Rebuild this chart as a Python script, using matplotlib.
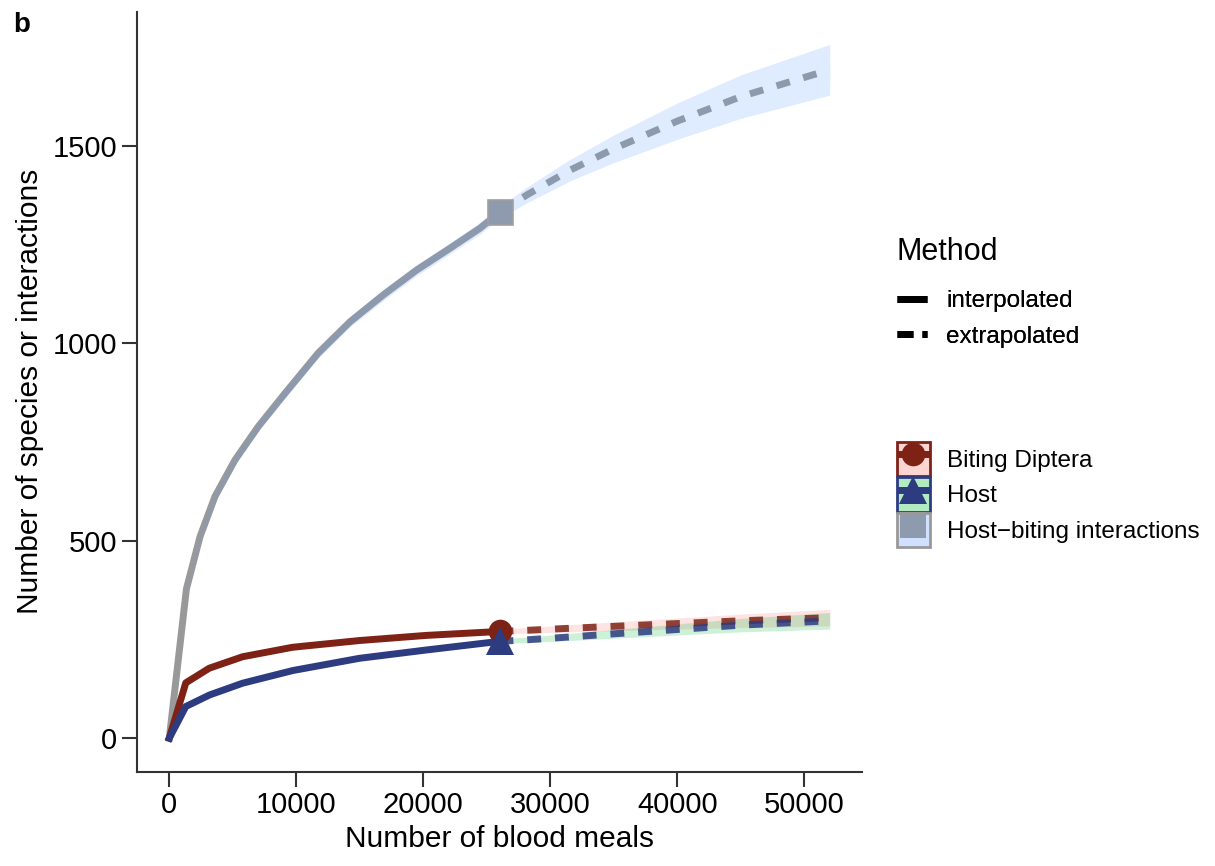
import numpy as np
import matplotlib.pyplot as plt
from matplotlib.lines import Line2D
from matplotlib.patches import Patch
from matplotlib.legend_handler import HandlerTuple

plt.rcParams['font.family'] = ['Liberation Sans', 'DejaVu Sans']

# values
groups = ['Biting Diptera', 'Host', 'Host\u2212biting interactions']
line_colors = ['#7E2216', '#2D3B80', '#999999']
band_colors = ['#F8766D', '#00BA38', '#619CFF']
markers = ['o', '^', 's']
marker_sizes = [17, 20, 18]

obs_x = [26000, 26000, 26000]
obs_y = [270, 245, 1331]

interp_x = [0, 1300, 3150, 5770, 9710, 14960, 20210, 26000]
interp_y = [
    [0, 140, 177, 206, 230, 247, 260, 270],
    [0, 80, 109, 139, 171, 202, 223, 245],
]
interp_half = [
    [0, 3, 4, 4, 5, 5, 6, 6],
    [0, 3, 4, 4, 5, 5, 6, 6],
]

# interaction curve was read at its own x positions
inter_x = [0, 1350, 2420, 3600, 5170, 7010, 9110, 11730, 14230, 16850,
           19480, 22100, 24470, 26000]
inter_y = [0, 378, 510, 612, 704, 789, 873, 975, 1054, 1122,
           1185, 1240, 1291, 1331]
inter_half = [0, 6, 8, 9, 10, 11, 12, 13, 13, 14, 14, 14, 15, 15]

extrap_x = [26000, 28200, 31500, 35000, 40000, 45000, 52000]
extrap_y = [
    [270, 273, 278, 283, 290, 297, 305],
    [245, 249, 256, 264, 275, 286, 297],
    [1331, 1376, 1437, 1492, 1562, 1624, 1692],
]
extrap_half = [
    [6, 7, 9, 11, 14, 17, 21],
    [6, 7, 9, 11, 14, 17, 21],
    [15, 20, 27, 35, 46, 55, 64],
]

fig = plt.figure(figsize=(12.15, 8.66), dpi=100)
ax = fig.add_axes([0.1125, 0.1089, 0.597, 0.8776])

lw = 5

# host-biting interactions: band sits over the line, tinting it blue
ax.plot(inter_x, inter_y, color=line_colors[2], lw=lw, zorder=2)
ax.plot(extrap_x, extrap_y[2], color=line_colors[2], lw=lw,
        dashes=(2, 2), dash_capstyle='butt', zorder=2)
xs = inter_x + extrap_x[1:]
ys = np.array(inter_y + extrap_y[2][1:])
hs = np.array(inter_half + extrap_half[2][1:])
ax.fill_between(xs, ys - hs, ys + hs, color=band_colors[2], alpha=0.2,
                lw=0, zorder=3)
ax.plot(obs_x[2], obs_y[2], marker='s', color='#8E9AAD', mec='#A0A0A0',
        mew=1.2, ms=marker_sizes[2], zorder=4)

# biting diptera and host
for i in [0, 1]:
    xs = interp_x + extrap_x[1:]
    ys = np.array(interp_y[i] + extrap_y[i][1:])
    hs = np.array(interp_half[i] + extrap_half[i][1:])
    ax.fill_between(xs, ys - hs, ys + hs, color=band_colors[i], alpha=0.2,
                    lw=0, zorder=3)
for i in [0, 1]:
    ax.plot(interp_x, interp_y[i], color=line_colors[i], lw=lw, zorder=5)
    ax.plot(extrap_x, extrap_y[i], color=line_colors[i], lw=lw, alpha=0.85,
            dashes=(2, 2), dash_capstyle='butt', zorder=5)
    ax.plot(obs_x[i], obs_y[i], marker=markers[i], color=line_colors[i],
            ms=marker_sizes[i], mew=0, zorder=6)

ax.set_xlim(-2567, 54543)
ax.set_ylim(-85, 1839)
ax.set_xticks([0, 10000, 20000, 30000, 40000, 50000])
ax.set_yticks([0, 500, 1000, 1500])
for s in ['top', 'right']:
    ax.spines[s].set_visible(False)
for s in ['left', 'bottom']:
    ax.spines[s].set_linewidth(1.5)
    ax.spines[s].set_color('#333333')
ax.tick_params(length=11, width=1.5, color='#333333', labelsize=21,
               labelcolor='black', pad=3)
ax.set_xlabel('Number of blood meals', fontsize=21.5, labelpad=4)
ax.set_ylabel('Number of species or interactions', fontsize=21.5,
              labelpad=6)

fig.text(0.011, 0.963, 'b', fontsize=20, fontweight='bold')

# Method legend
fig.text(0.738, 1 - 252 / 866, 'Method', fontsize=22, va='center')
meth_handles = [
    Line2D([], [], color='black', lw=lw, solid_capstyle='butt'),
    Line2D([], [], color='black', lw=lw, dashes=(2.3, 1.3),
           dash_capstyle='butt'),
]
leg1 = fig.legend(meth_handles, ['interpolated', 'extrapolated'],
                  loc='upper left', bbox_to_anchor=(0.738, 0.665),
                  frameon=False, borderpad=0, borderaxespad=0,
                  fontsize=17.5, handlelength=1.25,
                  labelspacing=0.55, handletextpad=0.8)

# group legend
grp_handles = []
for i in range(3):
    box = Patch(facecolor=band_colors[i], alpha=0.3, edgecolor='none')
    edge = Patch(facecolor='none', edgecolor=line_colors[i], lw=2)
    if i == 2:
        mk = Line2D([], [], marker='s', color='#8E9AAD', ls='none',
                    ms=19, mew=0)
    else:
        mk = Line2D([], [], marker=markers[i], color=line_colors[i], lw=lw,
                    solid_capstyle='butt', ms=marker_sizes[i], mew=0)
    grp_handles.append((box, mk, edge))
leg2 = fig.legend(grp_handles, groups, loc='upper left',
                  bbox_to_anchor=(0.738, 0.49), frameon=False, fontsize=17.5,
                  borderpad=0, borderaxespad=0,
                  handlelength=1.36, handleheight=1.8, labelspacing=0.05,
                  handletextpad=0.7,
                  handler_map={tuple: HandlerTuple(ndivide=1, pad=0)})
fig.add_artist(leg1)

fig.savefig('out.png', dpi=100)
